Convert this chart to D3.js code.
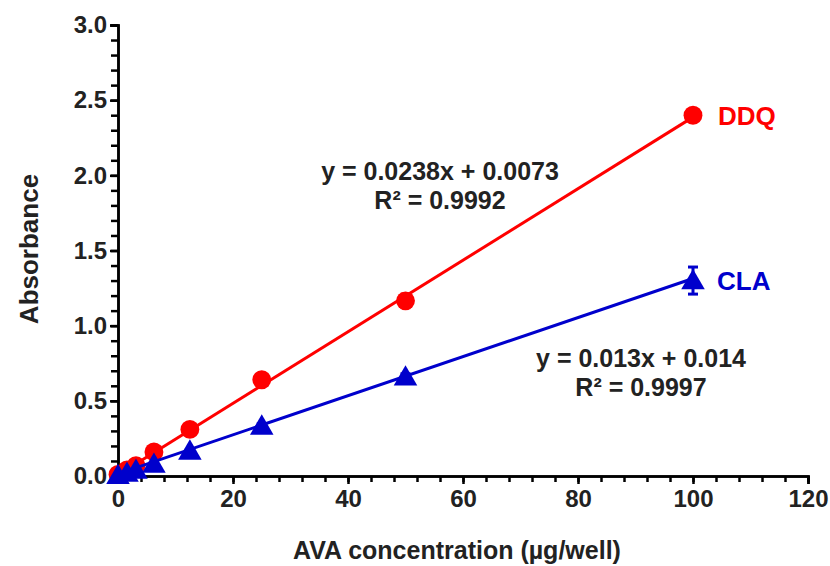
<!DOCTYPE html>
<html>
<head>
<meta charset="utf-8">
<script src="https://cdn.jsdelivr.net/npm/d3@7"></script>
<style>
  body { margin: 0; background: #fff; }
  svg text { font-family: "Liberation Sans", Arial, sans-serif; font-weight: bold; }
</style>
</head>
<body>
<div id="chart"></div>
<script>
// concentrations (µg/well)
var conc = [0, 1.5625, 3.125, 6.25, 12.5, 25, 50, 100];
var ddqVals = [0.01, 0.04, 0.068, 0.16, 0.31, 0.64, 1.165, 2.40];
var ddqErr = [0, 0, 0, 0.01, 0.01, 0.02, 0.045, 0.03];
var claVals = [0.005, 0.02, 0.04, 0.08, 0.167, 0.333, 0.66, 1.30];
var claErr = [0, 0, 0, 0.01, 0.01, 0.015, 0.02, 0.09];
var fits = [
  {slope: 0.0238, icpt: 0.0073, eq: 'y = 0.0238x + 0.0073', r2: 'R² = 0.9992'},
  {slope: 0.013, icpt: 0.014, eq: 'y = 0.013x + 0.014', r2: 'R² = 0.9997'}
];
var names = ['DDQ', 'CLA'];
var colors = ['#ff0000', '#0000cc'];
var yTicks = [0, 0.5, 1.0, 1.5, 2.0, 2.5, 3.0];
var xTicks = [0, 20, 40, 60, 80, 100, 120];

var width = 830,
	height = 566;

var x = d3.scaleLinear().domain([0, 120]).range([118, 808]),
	y = d3.scaleLinear().domain([0, 3]).range([476, 25]);

var svg = d3.select('#chart')
	.append('svg')
	.attr('width', width)
	.attr('height', height);

// axes
var yAxis = d3.axisLeft(y).tickValues(yTicks).tickFormat(d3.format('.1f')).tickSize(8).tickPadding(3);
var yMinor = d3.axisLeft(y).tickValues(d3.range(0, 3.01, 0.1)).tickFormat('').tickSize(7);
var xAxis = d3.axisBottom(x).tickValues(xTicks).tickFormat(d3.format('d')).tickSize(8).tickPadding(6);
var xMinor = d3.axisBottom(x).tickValues(d3.range(0, 121, 4)).tickFormat('').tickSize(6);

function styleAxis(g){
	g.select('.domain').attr('stroke', '#000').attr('stroke-width', 2.5);
	g.selectAll('.tick line').attr('stroke', '#000').attr('stroke-width', 2.5);
	g.selectAll('.tick text').attr('fill', '#222').style('font-size', '24px').style('font-family', '"Liberation Sans", Arial, sans-serif').style('font-weight', 'bold');
}

svg.append('g').attr('transform', 'translate(118,0)').call(yMinor).call(styleAxis);
svg.append('g').attr('transform', 'translate(118,0)').call(yAxis).call(styleAxis);
svg.append('g').attr('transform', 'translate(0,476)').call(xMinor).call(styleAxis);
svg.append('g').attr('transform', 'translate(0,476)').call(xAxis).call(styleAxis);

// axis titles
svg.append('text')
	.attr('x', 457).attr('y', 559)
	.attr('text-anchor', 'middle')
	.attr('fill', '#222')
	.style('font-size', '25px')
	.text('AVA concentration (µg/well)');

svg.append('text')
	.attr('transform', 'translate(38,249) rotate(-90)')
	.attr('text-anchor', 'middle')
	.attr('fill', '#222')
	.style('font-size', '26px')
	.text('Absorbance');

var series = [ddqVals, claVals];
var errs = [ddqErr, claErr];

series.forEach(function(vals, s){
	var f = fits[s];
	// trend line
	svg.append('line')
		.attr('x1', x(0)).attr('y1', y(f.icpt))
		.attr('x2', x(100)).attr('y2', y(f.slope * 100 + f.icpt))
		.attr('stroke', colors[s])
		.attr('stroke-width', 3);

	var g = svg.append('g');
	// error bars
	conc.forEach(function(c, i){
		var e = errs[s][i];
		if (!e) return;
		g.append('line')
			.attr('x1', x(c)).attr('x2', x(c))
			.attr('y1', y(vals[i] - e)).attr('y2', y(vals[i] + e))
			.attr('stroke', colors[s]).attr('stroke-width', 3);
		[vals[i] - e, vals[i] + e].forEach(function(v){
			g.append('line')
				.attr('x1', x(c) - 5).attr('x2', x(c) + 5)
				.attr('y1', y(v)).attr('y2', y(v))
				.attr('stroke', colors[s]).attr('stroke-width', 3);
		});
	});

	var sym = d3.symbol().type(s === 0 ? d3.symbolCircle : d3.symbolTriangle).size(s === 0 ? 280 : 240);
	g.selectAll('path.pt')
		.data(conc)
		.enter()
		.append('path')
		.attr('class', 'pt')
		.attr('d', sym)
		.attr('fill', colors[s])
		.attr('transform', function(d, i){
			return 'translate(' + x(d) + ',' + (y(vals[i]) + (s === 1 ? 2 : 0)) + ')';
		});
});

// series labels
svg.append('text').attr('x', 718).attr('y', 125).attr('fill', colors[0]).style('font-size', '26px').text(names[0]);
svg.append('text').attr('x', 717).attr('y', 290).attr('fill', colors[1]).style('font-size', '26px').text(names[1]);

// equations
svg.append('text').attr('x', 440).attr('y', 180).attr('text-anchor', 'middle').attr('fill', '#222').style('font-size', '25px').text(fits[0].eq);
svg.append('text').attr('x', 440).attr('y', 209).attr('text-anchor', 'middle').attr('fill', '#222').style('font-size', '25px').text(fits[0].r2);
svg.append('text').attr('x', 641).attr('y', 367).attr('text-anchor', 'middle').attr('fill', '#222').style('font-size', '25px').text(fits[1].eq);
svg.append('text').attr('x', 641).attr('y', 396).attr('text-anchor', 'middle').attr('fill', '#222').style('font-size', '25px').text(fits[1].r2);
</script>
</body>
</html>
